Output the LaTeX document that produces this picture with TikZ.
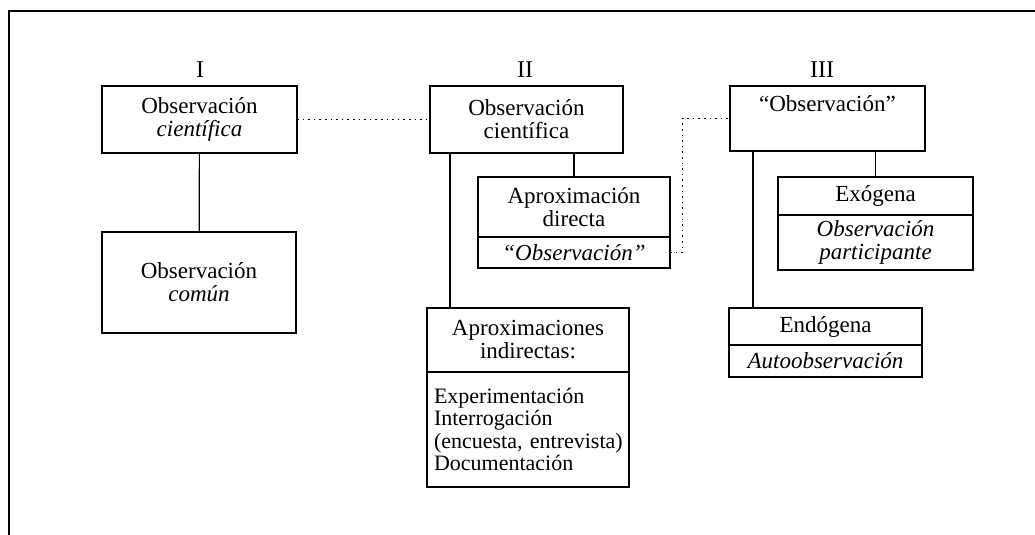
\documentclass[tikz,border=0pt]{standalone}
\usepackage{fontspec}
\setmainfont{Liberation Serif}
\usetikzlibrary{positioning}

\tikzset{
  box/.style={draw, line width=0.9pt, align=center, inner sep=0pt, outer sep=0pt,
    font=\fontsize{11.5}{11.5}\selectfont},
  heading/.style={font=\fontsize{12}{12}\selectfont},
  link/.style={line width=0.6pt},
  dots/.style={line width=0.8pt, dotted},
}

\begin{document}
\begin{tikzpicture}[x=0.5pt, y=-0.5pt, node distance=0pt]
\useasboundingbox (0,0) rectangle (1035,535);
\draw[line width=1pt] (9,535) -- (9,11) -- (1035,11);

% headings
\node[heading] (hI)   at (200,70) {I};
\node[heading] (hII)  at (525,70) {II};
\node[heading] (hIII) at (822,70) {III};

% column I
\node[box, minimum width=97.5pt, minimum height=33.5pt] (obsI) at (199.5,119.5)
  {Observación\\\textit{científica}};
\node[box, minimum width=97pt, minimum height=50.5pt] (comun) at (199,282.5)
  {Observación\\\textit{común}};

% column II
\node[box, minimum width=96.5pt, minimum height=33.5pt] (obsII) at (526.5,119.5)
  {Observación\\científica};
\node[box, minimum width=96pt, minimum height=30pt] (dirTop) at (574,207)
  {Aproximación\\directa};
\node[box, minimum width=96pt, minimum height=15.5pt, below=of dirTop] (dirBot)
  {\textit{“Observación”}};
\node[box, minimum width=101pt, minimum height=32pt] (indTop) at (528,340)
  {Aproximaciones\\indirectas:};
\node[box, align=left, text width=94pt, inner xsep=3.5pt, minimum height=57.5pt,
  font=\fontsize{11}{11.3}\selectfont, below=of indTop] (indBot)
  {\mbox{Experimentación}\\\mbox{Interrogación}\\\mbox{(encuesta, entrevista)}\\\mbox{Documentación}};

% column III
\node[box, minimum width=97.5pt, minimum height=32.5pt] (obsIII) at (827.5,118.5)
  {“Observación”\\\strut};
\node[box, minimum width=97.5pt, minimum height=19pt] (exoTop) at (875.5,196)
  {Exógena};
\node[box, minimum width=97.5pt, minimum height=27.5pt, below=of exoTop] (exoBot)
  {\textit{Observación}\\\textit{participante}};
\node[box, minimum width=96.5pt, minimum height=18.5pt] (endTop) at (825.5,326.5)
  {Endógena};
\node[box, minimum width=96.5pt, minimum height=16pt, below=of endTop] (endBot)
  {\textit{Autoobservación}};

% connectors
\draw[link] (obsI) -- (comun);
\draw[dots] (obsI) -- (obsII);
\draw[link] (dirTop.north) -- (dirTop.north |- obsII.south);
\draw[link] ([xshift=11.5pt]indTop.north west) -- ([xshift=11.5pt]indTop.north west |- obsII.south);
\draw[dots] (dirBot.east) -- ++(12.5,0) |- (obsIII.west);
\draw[link] (exoTop.north) -- (exoTop.north |- obsIII.south);
\draw[line width=1.2pt] ([xshift=12pt]endTop.north west) -- ([xshift=12pt]endTop.north west |- obsIII.south);
\end{tikzpicture}
\end{document}
